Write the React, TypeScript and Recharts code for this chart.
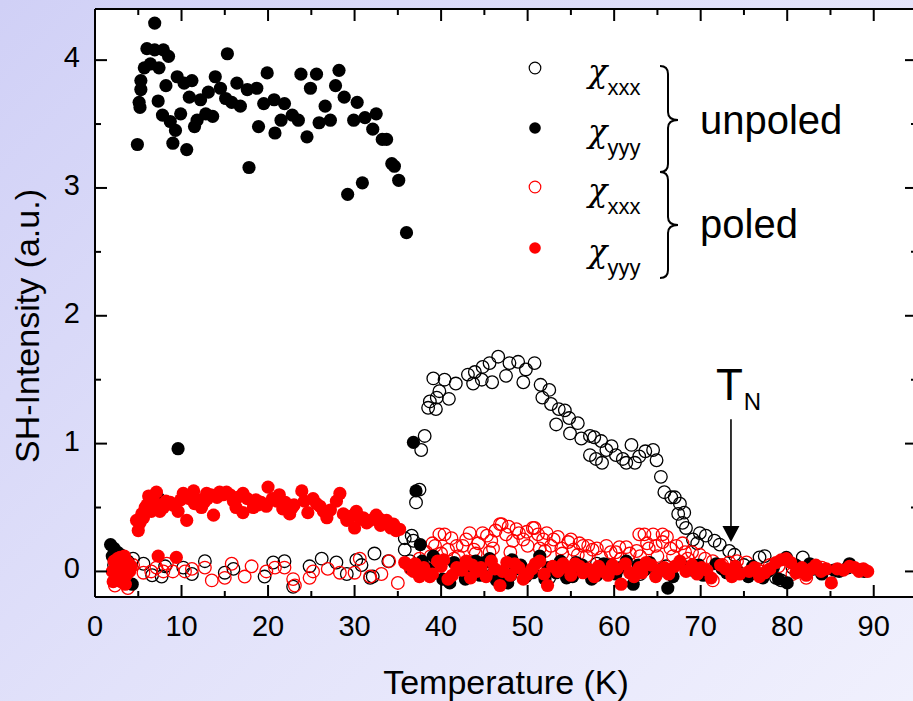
import React from "react";
import {
  ScatterChart, Scatter, XAxis, YAxis, CartesianGrid, ReferenceLine, Legend,
} from "recharts";

// [temperature K, SH intensity a.u.]
const UNPOLED_XXX: [number, number][] = [
  [2.2, 0.05], [2.9, 0.08], [3.5, -0.02], [4.4, 0.1], [5.6, 0.06], [6.6, -0.03], [7.7, -0.04], [8.1, 0.04],
  [10.2, 0.03], [11.2, -0.02], [12.7, 0.08], [15.0, -0.01], [16.0, 0.02], [19.6, -0.04], [20.6, 0.07],
  [21.9, 0.08], [22.9, -0.12], [24.8, 0.04], [26.2, 0.1], [27.9, 0.07], [29.1, -0.02], [30.2, 0.09],
  [30.8, 0.05], [31.8, -0.05], [32.1, -0.04], [32.3, 0.14], [33.9, 0.08], [35.8, 0.17], [35.8, 0.26],
  [36.4, 0.08], [36.6, 0.28], [36.8, 0.24],
  [37.1, 0.54], [37.5, 0.64], [37.7, 0.95], [38.1, 1.06], [38.5, 1.28], [38.7, 1.33], [39.1, 1.51],
  [39.4, 1.27], [39.5, 1.36], [39.8, 1.41], [40.4, 1.5], [40.9, 1.35], [41.7, 1.47], [43.1, 1.54],
  [43.7, 1.47], [43.9, 1.56], [44.7, 1.5], [44.8, 1.6], [45.6, 1.63], [45.9, 1.48], [46.6, 1.68],
  [47.5, 1.53], [47.9, 1.63], [48.9, 1.64], [49.5, 1.48], [49.8, 1.58], [50.8, 1.63], [51.5, 1.46],
  [51.7, 1.36], [52.5, 1.42], [52.7, 1.31], [53.3, 1.15], [53.6, 1.27], [54.3, 1.26], [54.8, 1.2],
  [54.9, 1.08], [55.8, 1.16], [56.2, 1.04], [57.2, 1.06], [57.2, 0.91], [57.7, 1.05], [57.9, 0.88],
  [58.5, 1.02], [58.6, 0.85], [59.1, 0.95], [59.7, 0.98], [60.2, 0.91], [61.0, 0.88], [61.4, 0.85],
  [62.0, 0.99], [62.4, 0.85], [62.9, 0.9], [63.6, 0.94], [64.5, 0.95], [64.9, 0.87], [65.4, 0.74],
  [65.8, 0.62], [66.6, 0.58], [67.0, 0.58], [67.4, 0.45], [67.6, 0.53], [67.9, 0.38], [68.1, 0.46],
  [68.3, 0.34], [69.1, 0.25], [69.6, 0.22], [69.9, 0.3], [70.6, 0.28], [71.6, 0.24], [72.2, 0.21],
  [73.3, 0.16], [73.9, 0.13],
  [42.0, 0.02], [48.0, -0.03], [55.0, 0.02], [60.0, 0.0], [45.0, 0.05], [52.5, -0.05], [58.0, 0.06],
  [63.0, -0.02], [66.0, 0.04],
  [75.0, 0.05], [76.8, 0.11], [77.4, 0.12], [78.7, -0.05], [79.3, -0.07], [80.6, 0.03], [81.8, 0.11],
  [83.0, 0.02], [85.0, -0.01], [87.0, 0.03], [88.5, 0.01],
];

const UNPOLED_YYY: [number, number][] = [
  [1.8, 0.21], [2.2, 0.18], [2.6, 0.15], [3.0, 0.13], [3.4, 0.1], [3.8, 0.08], [2.4, 0.05], [4.3, -0.1],
  [2.0, 0.12], [3.2, 0.02],
  [4.9, 3.34], [5.1, 3.67], [5.2, 3.63], [5.3, 3.84], [5.3, 3.77], [5.7, 3.94], [6.0, 4.09], [6.4, 3.97],
  [6.9, 4.29], [6.9, 4.08], [7.3, 3.68], [7.4, 3.94], [7.8, 3.57], [7.9, 4.08], [8.2, 3.8], [8.5, 4.03],
  [8.7, 3.52], [9.0, 3.35], [9.3, 3.45], [9.5, 3.87], [9.9, 3.58], [10.3, 3.82], [10.6, 3.3], [10.9, 3.71],
  [11.2, 3.84], [11.5, 3.48], [11.8, 3.53], [12.2, 3.69], [12.8, 3.58], [13.1, 3.75], [13.6, 3.56],
  [13.9, 3.87], [14.5, 3.78], [15.1, 3.7], [15.3, 4.05], [15.8, 3.67], [16.4, 3.82], [16.8, 3.64],
  [17.6, 3.77], [17.8, 3.16], [18.7, 3.78], [18.9, 3.48], [19.5, 3.66], [19.9, 3.9], [20.7, 3.69],
  [20.8, 3.43], [21.5, 3.53], [21.9, 3.66], [22.8, 3.57], [23.5, 3.53], [23.8, 3.89], [24.5, 3.4],
  [24.9, 3.78], [25.6, 3.89], [25.9, 3.51], [26.6, 3.64], [27.2, 3.53], [27.8, 3.8], [28.2, 3.92],
  [28.8, 3.71], [29.2, 2.95], [29.9, 3.53], [30.3, 3.67], [30.9, 3.04], [31.2, 3.55], [32.1, 3.46],
  [32.5, 3.58], [33.2, 3.38], [33.7, 3.38], [34.3, 3.19], [34.6, 3.17], [35.1, 3.06], [36.0, 2.65],
  [9.6, 0.96], [7.4, 0.57], [36.8, 1.01], [37.1, 0.63], [37.6, 0.21],
  [38.5, 0.02], [39.1, 0.12], [40.2, -0.06], [41.0, -0.09], [42.3, 0.04], [43.1, -0.02], [44.0, 0.08],
  [45.0, 0.07], [46.4, -0.07], [47.7, -0.09], [48.6, 0.02], [49.8, -0.04], [51.4, 0.12], [52.4, 0.03],
  [53.3, -0.01], [54.5, -0.05], [55.6, 0.07], [56.8, 0.02], [58.0, -0.03], [59.3, 0.05], [60.2, -0.02],
  [61.4, 0.08], [62.2, -0.1], [63.5, 0.01], [64.9, -0.02], [66.2, -0.13], [67.7, 0.06], [69.0, 0.01],
  [70.3, -0.03], [71.8, 0.06], [73.0, -0.01], [74.1, 0.02], [75.5, -0.04], [77.2, -0.05], [78.4, 0.03],
  [79.9, 0.11], [80.0, -0.09], [81.3, 0.0], [82.6, 0.06], [84.0, -0.02], [85.4, 0.01], [87.2, 0.06],
  [88.9, 0.0],
  [36.5, 0.03], [37.8, 0.08], [39.8, 0.05], [41.5, 0.07], [42.8, -0.06], [44.5, -0.03], [45.6, 0.1],
  [47.0, -0.06], [48.2, 0.09], [49.2, 0.05], [50.6, -0.01], [52.0, -0.06], [53.8, 0.08], [55.2, -0.04],
  [56.3, 0.05], [57.4, -0.06], [58.8, 0.06], [60.7, 0.03], [62.8, 0.05], [64.1, 0.07], [65.5, 0.02],
  [66.8, -0.04], [68.5, 0.03], [69.8, 0.05], [72.5, 0.02], [76.0, 0.04], [77.8, 0.0], [79.0, -0.06],
  [81.0, 0.05], [83.5, 0.03], [86.0, 0.0],
];

const POLED_XXX: [number, number][] = [
  [2.3, -0.11], [2.8, -0.05], [3.2, 0.02], [3.8, -0.13], [4.4, 0.05], [5.6, -0.01], [6.5, 0.0], [7.1, 0.03],
  [7.9, 0.0], [8.3, 0.06], [9.0, 0.0], [10.4, 0.0], [11.2, 0.02], [12.7, 0.03], [13.5, -0.07], [15.0, -0.05],
  [15.8, 0.06], [17.3, -0.04], [18.1, 0.04], [19.8, 0.0], [20.8, 0.03], [21.9, 0.03], [23.1, -0.11],
  [22.9, -0.06], [24.8, -0.05], [25.2, 0.0], [26.9, 0.02], [28.3, -0.01], [30.0, -0.01], [30.6, 0.1],
  [31.8, -0.04], [33.1, -0.02], [34.0, 0.08], [35.0, -0.09], [36.5, 0.02], [37.5, 0.1], [38.3, 0.15],
  [39.3, 0.2], [39.8, 0.29], [40.4, 0.29], [40.8, 0.17], [41.8, 0.2], [42.9, 0.25], [43.8, 0.17],
  [44.8, 0.3], [45.8, 0.24], [46.8, 0.37], [47.0, 0.37], [47.5, 0.29], [48.7, 0.33], [49.5, 0.25],
  [50.6, 0.34], [50.8, 0.34], [51.8, 0.25], [52.7, 0.2], [53.5, 0.27], [54.7, 0.23], [55.8, 0.13],
  [56.4, 0.2], [57.5, 0.17], [59.1, 0.2], [60.2, 0.15], [61.4, 0.19], [62.6, 0.16], [62.9, 0.29],
  [63.5, 0.29], [64.5, 0.29], [65.6, 0.29], [65.6, 0.23], [66.5, 0.18], [67.9, 0.22], [69.0, 0.15],
  [69.9, 0.13], [71.4, 0.08], [71.4, -0.07], [73.3, 0.07], [75.3, 0.07], [76.5, 0.02], [78.0, 0.05],
  [80.6, -0.02], [82.2, -0.05], [84.0, 0.03],
  [42.0, 0.12], [44.0, 0.14], [46.0, 0.18], [48.0, 0.15], [50.0, 0.2], [52.0, 0.16], [54.0, 0.14],
  [56.8, 0.12], [58.5, 0.11], [60.8, 0.1], [63.0, 0.12], [64.0, 0.18], [66.8, 0.12], [68.5, 0.1],
  [38.8, 0.12], [39.0, 0.22], [40.0, 0.14], [41.2, 0.26], [41.5, 0.1], [42.5, 0.2], [43.3, 0.3],
  [44.3, 0.22], [45.3, 0.28], [45.6, 0.15], [46.3, 0.32], [47.8, 0.35], [48.3, 0.24], [49.0, 0.3],
  [49.9, 0.31], [51.2, 0.29], [51.4, 0.18], [52.2, 0.3], [53.0, 0.25], [53.9, 0.18], [55.0, 0.25],
  [55.3, 0.17], [56.0, 0.22], [57.0, 0.2], [58.0, 0.18], [59.6, 0.15], [60.6, 0.19], [61.8, 0.14],
  [63.8, 0.22], [64.8, 0.2], [65.0, 0.12], [66.1, 0.27], [67.2, 0.2], [68.2, 0.15], [70.5, 0.1],
  [72.5, 0.05], [74.2, 0.08], [77.0, 0.0], [79.0, 0.04],
];

const POLED_YYY: [number, number][] = [
  [2.0, 0.0], [2.2, 0.08], [2.4, -0.05], [2.6, 0.1], [2.8, 0.03], [3.0, -0.08], [3.2, 0.05], [3.4, 0.12],
  [3.6, -0.03], [3.8, 0.07], [4.0, 0.0], [2.3, 0.03], [2.9, 0.11], [3.5, -0.1], [2.1, -0.08], [4.2, 0.04],
  [3.1, 0.01], [2.7, -0.02],
  [4.8, 0.4], [5.0, 0.32], [5.4, 0.45], [5.8, 0.5], [6.2, 0.59], [6.5, 0.47], [7.1, 0.62], [7.3, 0.12],
  [7.9, 0.5], [8.2, 0.55], [8.7, 0.54], [9.4, 0.11], [9.6, 0.47], [10.2, 0.61], [10.6, 0.4], [11.4, 0.63],
  [11.5, 0.53], [12.3, 0.5], [12.9, 0.61], [13.0, 0.57], [13.7, 0.44], [14.1, 0.58], [14.8, 0.6],
  [15.2, 0.62], [16.0, 0.55], [16.5, 0.58], [17.1, 0.61], [17.1, 0.46], [18.3, 0.5], [18.8, 0.52],
  [19.2, 0.54], [19.8, 0.51], [20.0, 0.66], [21.0, 0.55], [21.7, 0.49], [22.5, 0.45], [23.0, 0.52],
  [23.9, 0.63], [24.6, 0.46], [25.2, 0.57], [26.0, 0.51], [26.8, 0.42], [27.2, 0.48], [27.9, 0.55],
  [28.3, 0.61], [29.1, 0.4], [30.0, 0.34], [30.2, 0.47], [31.0, 0.42], [31.4, 0.38], [32.5, 0.44],
  [33.0, 0.36], [33.7, 0.4], [34.2, 0.34], [34.8, 0.32],
  [5.2, 0.38], [5.6, 0.42], [6.0, 0.52], [6.8, 0.55], [7.5, 0.47], [9.0, 0.52], [9.9, 0.56], [10.9, 0.57],
  [11.9, 0.56], [12.6, 0.54], [13.4, 0.6], [14.4, 0.62], [15.6, 0.6], [16.3, 0.5], [17.6, 0.57],
  [18.6, 0.56], [20.5, 0.57], [21.3, 0.6], [22.0, 0.54], [22.8, 0.5], [24.2, 0.55], [25.6, 0.53],
  [26.4, 0.47], [28.7, 0.45], [29.5, 0.43], [30.7, 0.41], [31.8, 0.4], [32.9, 0.41], [34.5, 0.37],
  [35.2, 0.33],
  [35.8, 0.07], [36.8, 0.0], [37.5, -0.04], [38.7, -0.04], [39.6, 0.08], [40.8, -0.06], [41.8, 0.03],
  [42.9, 0.08], [44.1, 0.0], [45.8, 0.08], [46.8, -0.11], [47.1, 0.0], [48.5, 0.06], [49.5, -0.06],
  [50.5, 0.02], [51.4, 0.08], [52.3, -0.11], [52.9, 0.04], [54.1, 0.06], [55.0, -0.03], [56.0, 0.04],
  [56.4, -0.01], [57.7, -0.04], [58.7, 0.0], [59.8, 0.05], [60.8, -0.1], [61.8, -0.01], [62.9, 0.03],
  [63.7, 0.07], [64.8, -0.04], [65.8, 0.03], [67.6, 0.08], [68.3, 0.0], [70.1, 0.03], [71.2, -0.05],
  [72.9, 0.02], [74.5, -0.02], [75.6, 0.0], [77.4, -0.01], [78.7, 0.07], [79.9, 0.1], [81.0, -0.01],
  [82.8, 0.02], [83.9, 0.0], [85.1, -0.09], [85.8, 0.02], [87.2, 0.04], [88.3, 0.0], [89.3, 0.0],
  [36.2, 0.05], [37.0, 0.06], [38.0, 0.03], [39.0, -0.02], [40.0, 0.04], [40.3, 0.09], [41.3, -0.03],
  [42.4, 0.01], [43.4, -0.05], [43.6, 0.05], [44.6, 0.03], [45.2, -0.04], [46.2, 0.02], [47.6, 0.07],
  [48.0, -0.03], [49.0, 0.03], [50.0, -0.02], [50.9, 0.06], [51.9, -0.02], [53.5, 0.0], [54.6, 0.03],
  [55.5, 0.06], [57.0, 0.02], [58.2, 0.04], [59.3, -0.03], [60.3, 0.02], [61.3, 0.06], [62.3, -0.04],
  [63.2, -0.01], [64.3, 0.05], [65.3, 0.01], [66.3, -0.02], [67.0, 0.04], [69.0, 0.05], [69.6, -0.02],
  [70.7, 0.01], [72.3, 0.05], [73.6, -0.04], [74.0, 0.04], [76.2, 0.03], [76.8, -0.04], [78.0, 0.02],
  [79.3, 0.09], [80.4, 0.07], [81.7, 0.03], [82.2, -0.03], [83.3, 0.05], [84.5, 0.02], [86.5, 0.01],
  [87.8, 0.03], [88.8, 0.02],
];

const X_DOMAIN: [number, number] = [0, 95];
const Y_DOMAIN: [number, number] = [-0.2, 4.4];
const X_TICKS = [0, 5, 10, 15, 20, 25, 30, 35, 40, 45, 50, 55, 60, 65, 70, 75, 80, 85, 90];
const Y_TICKS = [0, 0.5, 1, 1.5, 2, 2.5, 3, 3.5, 4];
const T_N = 73.5;
const T_N_ARROW: [number, number] = [1.19, 0.23];

const SERIES = [
  { key: "ux", data: UNPOLED_XXX, color: "#000", filled: false, sub: "xxx" },
  { key: "px", data: POLED_XXX, color: "#ff0000", filled: false, sub: "xxx" },
  { key: "uy", data: UNPOLED_YYY, color: "#000", filled: true, sub: "yyy" },
  { key: "py", data: POLED_YYY, color: "#ff0000", filled: true, sub: "yyy" },
];
const LEGEND_ORDER = ["ux", "uy", "px", "py"];

const FONT = '"Liberation Sans", Arial, sans-serif';
const W = 940;
const H = 701;
const MARGIN = { top: 9, right: 23, bottom: 44, left: 35 };
const PLOT_TOP = MARGIN.top;
const PLOT_RIGHT = W - MARGIN.right;

const toPoints = (arr: [number, number][]) => arr.map(([t, v]) => ({ t, v }));

const dot = (color: string, filled: boolean) => (p: any) => (
  <circle
    cx={p.cx}
    cy={p.cy}
    r={filled ? 6.6 : 6.3}
    fill={filled ? color : "none"}
    stroke={color}
    strokeWidth={filled ? 0 : 1.3}
  />
);

function XTick(props: any) {
  const { x, y, payload } = props;
  const v = payload.value;
  const major = v % 10 === 0;
  const len = major ? 12 : 6;
  return (
    <g>
      <line x1={x} x2={x} y1={y} y2={y - len} stroke="#000" strokeWidth={2} />
      <line x1={x} x2={x} y1={PLOT_TOP} y2={PLOT_TOP + len} stroke="#000" strokeWidth={2} />
      {major && (
        <text x={x} y={y + 39} textAnchor="middle" fontSize={29} fontFamily={FONT} fill="#000">
          {v}
        </text>
      )}
    </g>
  );
}

function YTick(props: any) {
  const { x, y, payload } = props;
  const v = payload.value;
  const major = v % 1 === 0;
  const len = major ? 12 : 6;
  return (
    <g>
      <line x1={x} x2={x + len} y1={y} y2={y} stroke="#000" strokeWidth={2} />
      <line x1={PLOT_RIGHT} x2={PLOT_RIGHT - len} y1={y} y2={y} stroke="#000" strokeWidth={2} />
      {major && (
        <text x={x - 15} y={y + 7} textAnchor="end" fontSize={29} fontFamily={FONT} fill="#000">
          {v}
        </text>
      )}
    </g>
  );
}

function brace(top: number, mid: number, bot: number) {
  const s = 168;
  return `M${s - 8},${top} Q${s},${top} ${s},${top + 8} L${s},${mid - 8} Q${s},${mid} ${s + 10},${mid} ` +
    `Q${s},${mid} ${s},${mid + 8} L${s},${bot - 8} Q${s},${bot} ${s - 8},${bot}`;
}

function LegendBox() {
  const rows = LEGEND_ORDER.map((k) => SERIES.find((s) => s.key === k)!);
  const rowY = [28, 88, 147, 208];
  return (
    <svg width={380} height={260} style={{ display: "block", overflow: "visible" }}>
      {rows.map((s, i) => (
        <g key={s.key}>
          <circle
            cx={35}
            cy={rowY[i]}
            r={5.8}
            fill={s.filled ? s.color : "none"}
            stroke={s.color}
            strokeWidth={s.filled ? 0 : 1.2}
          />
          <text x={88} y={rowY[i] + 14} fill="#000">
            <tspan fontSize={32} fontFamily='"DejaVu Serif", serif' fontStyle="italic">χ</tspan>
            <tspan fontSize={22} fontFamily={FONT} dy={13}>{s.sub}</tspan>
          </text>
        </g>
      ))}
      <path d={brace(26, 80, 132)} fill="none" stroke="#000" strokeWidth={2} />
      <path d={brace(132, 185, 238)} fill="none" stroke="#000" strokeWidth={2} />
      <text x={200} y={94} fontSize={40} fontFamily={FONT} fill="#000">unpoled</text>
      <text x={200} y={198} fontSize={40} fontFamily={FONT} fill="#000">poled</text>
    </svg>
  );
}

function TnArrow(p: any) {
  const { x1, y1, x2, y2 } = p;
  return (
    <g>
      <line x1={x1} y1={y1} x2={x2} y2={y2 - 14} stroke="#000" strokeWidth={1.6} />
      <polygon points={`${x2 - 8.5},${y2 - 16} ${x2 + 8.5},${y2 - 16} ${x2},${y2}`} fill="#000" />
      <text x={x1 - 15} y={y1 - 19} fontSize={44} fontFamily={FONT} fill="#000">
        T
        <tspan fontSize={24} dy={10} dx={1}>N</tspan>
      </text>
    </g>
  );
}

export default function App() {
  return (
    <div
      style={{
        position: "fixed",
        left: 0,
        top: 0,
        width: 913,
        height: 701,
        overflow: "hidden",
        background: "linear-gradient(135deg, #d0d0f6 0%, #e2e2fa 50%, #f0f0fd 100%)",
      }}
    >
      <ScatterChart width={W} height={H} margin={MARGIN}>
        <CartesianGrid horizontal={false} vertical={false} fill="#fff" />
        <XAxis
          type="number"
          dataKey="t"
          domain={X_DOMAIN}
          ticks={X_TICKS}
          interval={0}
          height={60}
          tickSize={0}
          tickMargin={0}
          tickLine={false}
          axisLine={{ stroke: "#000", strokeWidth: 2 }}
          tick={XTick}
          label={(p: any) => {
            const vb = p.viewBox;
            return (
              <text x={vb.x + vb.width / 2} y={vb.y + 97} textAnchor="middle" fontSize={34} fontFamily={FONT} fill="#000">
                Temperature (K)
              </text>
            );
          }}
        />
        <YAxis
          type="number"
          dataKey="v"
          domain={Y_DOMAIN}
          ticks={Y_TICKS}
          interval={0}
          width={60}
          tickSize={0}
          tickMargin={0}
          tickLine={false}
          axisLine={{ stroke: "#000", strokeWidth: 2 }}
          tick={YTick}
          label={(p: any) => {
            const vb = p.viewBox;
            const cx = vb.x + 4;
            const cy = vb.y + vb.height / 2 + 23;
            return (
              <text x={cx} y={cy} textAnchor="middle" fontSize={34} fontFamily={FONT} fill="#000" transform={`rotate(-90, ${cx}, ${cy})`}>
                SH-Intensity (a.u.)
              </text>
            );
          }}
        />
        <ReferenceLine y={Y_DOMAIN[1]} stroke="#000" strokeWidth={2} />
        <ReferenceLine x={X_DOMAIN[1]} stroke="#000" strokeWidth={2} />
        {SERIES.map((s) => (
          <Scatter
            key={s.key}
            data={toPoints(s.data)}
            dataKey="v"
            isAnimationActive={false}
            shape={dot(s.color, s.filled)}
          />
        ))}
        <ReferenceLine
          segment={[{ x: T_N, y: T_N_ARROW[0] }, { x: T_N, y: T_N_ARROW[1] }]}
          shape={TnArrow}
        />
        <Legend
          layout="vertical"
          align="center"
          verticalAlign="middle"
          wrapperStyle={{ left: 500, top: 40, width: 380, height: 260 }}
          content={() => <LegendBox />}
        />
      </ScatterChart>
    </div>
  );
}
